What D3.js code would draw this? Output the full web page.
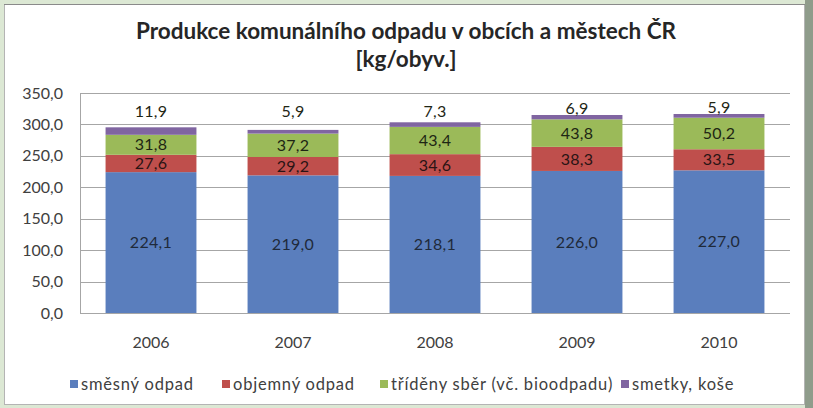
<!DOCTYPE html>
<html>
<head>
<meta charset="utf-8">
<script src="https://cdn.jsdelivr.net/npm/d3@7"></script>
<style>
  body { margin: 0; background: #dce8d4; }
  svg { display: block; font-family: Lato, "Open Sans", sans-serif; }
</style>
</head>
<body>
<div id="chart"></div>
<script>
// data
var years = ["2006", "2007", "2008", "2009", "2010"];
var smesny = [224.1, 219.0, 218.1, 226.0, 227.0];
var objemny = [27.6, 29.2, 34.6, 38.3, 33.5];
var trideny = [31.8, 37.2, 43.4, 43.8, 50.2];
var smetky = [11.9, 5.9, 7.3, 6.9, 5.9];
var seriesNames = ["směsný odpad", "objemný odpad", "tříděny sběr (vč. bioodpadu)", "smetky, koše"];
var yTicks = [0, 50, 100, 150, 200, 250, 300, 350];

var colors = ["#5a7ebd", "#bf4f4c", "#9bba59", "#8065a1"];

var svgWidth = 813;
var svgHeight = 408;
var margin = { top: 93, right: 23, bottom: 95, left: 80 };
var width = svgWidth - margin.left - margin.right;
var height = svgHeight - margin.top - margin.bottom;

var svg = d3.select("#chart").append("svg").attr("width", svgWidth).attr("height", svgHeight);

// frame
svg.append("rect").attr("x", 805).attr("y", 0).attr("width", 8).attr("height", svgHeight).attr("fill", "#8f9c8b");
svg.append("rect").attr("x", 4.5).attr("y", 4.5).attr("width", 800).attr("height", 400)
  .attr("fill", "#fff").attr("stroke", "#b4b4b4");
svg.append("line").attr("x1", 4).attr("x2", 805).attr("y1", 4.5).attr("y2", 4.5).attr("stroke", "#8a8a8a");

// title
var title = svg.append("text").attr("text-anchor", "middle").attr("font-weight", "bold")
  .attr("font-size", 22.5).attr("fill", "#262626");
title.append("tspan").attr("x", 406).attr("y", 39).text("Produkce komunálního odpadu v obcích a městech ČR");
title.append("tspan").attr("x", 406).attr("y", 67).text("[kg/obyv.]");

var chartGroup = svg.append("g").attr("transform", `translate(${margin.left}, ${margin.top})`);

var x = d3.scaleBand().domain(years).range([0, width]).paddingInner(0.36).paddingOuter(0.18);
var y = d3.scaleLinear().domain([0, 350]).range([height, 0]);

// gridlines
chartGroup.selectAll(".grid").data(yTicks).enter().append("line")
  .attr("x1", 0).attr("x2", width)
  .attr("y1", d => Math.round(y(d)) + 0.5).attr("y2", d => Math.round(y(d)) + 0.5)
  .attr("stroke", "#a6a6a6");
chartGroup.append("line").attr("x1", 0.5).attr("x2", 0.5).attr("y1", 0).attr("y2", height).attr("stroke", "#a6a6a6");

// stacked data
var table = years.map(function(yr, i) {
  return { year: yr, s0: smesny[i], s1: objemny[i], s2: trideny[i], s3: smetky[i] };
});
var stack = d3.stack().keys(["s0", "s1", "s2", "s3"]);
var layers = stack(table);

layers.forEach(function(layer, li) {
  chartGroup.selectAll(".bar" + li).data(layer).enter().append("rect")
    .attr("x", d => x(d.data.year))
    .attr("width", x.bandwidth())
    .attr("y", d => y(d[1]))
    .attr("height", d => y(d[0]) - y(d[1]))
    .attr("fill", colors[li]);

  chartGroup.selectAll(".lab" + li).data(layer).enter().append("text")
    .attr("x", d => x(d.data.year) + x.bandwidth() / 2)
    .attr("y", function(d) {
      if (li === 3) return y(Math.max(d[1] + 10, 320));
      return y((d[0] + d[1]) / 2);
    })
    .attr("dy", "0.35em")
    .attr("text-anchor", "middle")
    .attr("font-size", 16)
    .attr("letter-spacing", 0.3)
    .attr("fill", li === 0 ? "#1f2a3a" : li === 1 ? "#2a1414" : "#1e2614")
    .text(d => d3.format(".1f")(d[1] - d[0]).replace(".", ","));
});

// axes
var leftAxis = d3.axisLeft(y).tickValues(yTicks).tickSize(0).tickPadding(17)
  .tickFormat(d => d3.format(".1f")(d).replace(".", ","));
var yAxisG = chartGroup.append("g").call(leftAxis);
yAxisG.select(".domain").remove();
yAxisG.selectAll("text").attr("font-size", 16).attr("fill", "#404040").attr("font-family", "Lato, sans-serif");

var bottomAxis = d3.axisBottom(x).tickSize(0).tickPadding(24);
var xAxisG = chartGroup.append("g").attr("transform", `translate(0, ${height})`).call(bottomAxis);
xAxisG.select(".domain").remove();
xAxisG.selectAll("text").attr("font-size", 16).attr("fill", "#404040").attr("font-family", "Lato, sans-serif");

// legend
var legendX = [70, 222, 380, 621];
var legend = svg.selectAll(".legend").data(seriesNames).enter().append("g")
  .attr("transform", (d, i) => `translate(${legendX[i]}, 384)`);
legend.append("rect").attr("x", 0).attr("y", -4).attr("width", 8).attr("height", 8).attr("fill", (d, i) => colors[i]);
legend.append("text").attr("x", 11).attr("dy", "0.35em").attr("font-size", 16.5).attr("letter-spacing", 0.8)
  .attr("fill", "#404040").text(d => d);
</script>
</body>
</html>
